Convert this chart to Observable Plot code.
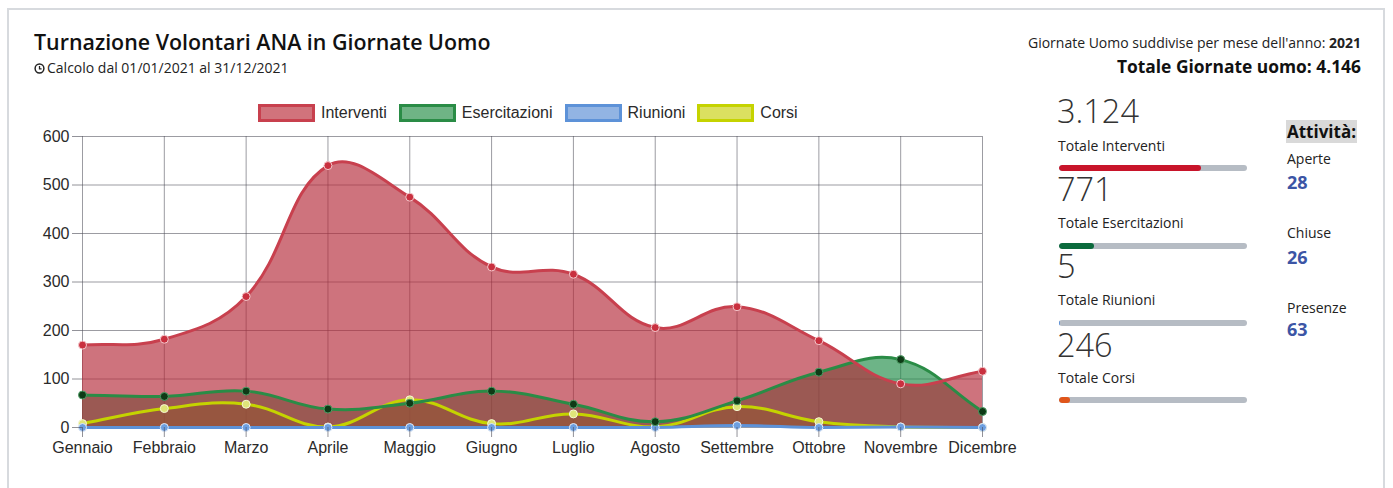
<!DOCTYPE html>
<html><head><meta charset="utf-8">
<script src="https://cdn.jsdelivr.net/npm/d3@7"></script>
<script src="https://cdn.jsdelivr.net/npm/@observablehq/plot@0.6"></script>
<style>
body{margin:0;background:#fff;width:1393px;height:488px;overflow:hidden;position:relative;font-family:"Open Sans",sans-serif;color:#222}
.card{position:absolute;left:7px;top:8px;width:1378px;height:540px;border:2px solid #d7dade;box-sizing:border-box}
.abs{position:absolute;line-height:1;white-space:nowrap}
.legend{position:absolute;left:258px;top:104px;display:flex;align-items:center;font-family:"Liberation Sans",Arial,sans-serif;font-size:16px;color:#2a2a2a}
.legend .item{display:flex;align-items:center;margin-right:12px}
.legend .box{width:57px;height:18px;box-sizing:border-box;border:3px solid;margin-right:6px}
.bar{position:absolute;left:1059px;width:188px;height:6px;border-radius:3px;background:#b6bcc4;overflow:hidden}
.bar div{height:100%;border-radius:3px}
#chart{position:absolute;left:0;top:120px}
</style></head>
<body>
<div class="card"></div>
<div id="root"></div>
<div id="chart"></div>
<script>
// ---- data ----
const months = ["Gennaio","Febbraio","Marzo","Aprile","Maggio","Giugno","Luglio","Agosto","Settembre","Ottobre","Novembre","Dicembre"];
const interventi    = [170,182,270,540,475,331,316,206,249,179,90,116];
const esercitazioni = [67,64,75,38,50,75,48,12,55,114,140,33];
const riunioni      = [0,0,0,0,0,0,0,0,4,0,1,0];
const corsi         = [8,39,48,1,57,8,28,1,43,12,1,0];
const yTicks = [0,100,200,300,400,500,600];
const seriesNames = ["Interventi","Esercitazioni","Riunioni","Corsi"];
const seriesLabels = ["Totale Interventi","Totale Esercitazioni","Totale Riunioni","Totale Corsi"];
const attivitaLabels = ["Aperte","Chiuse","Presenze"];
const attivitaValues = [28,26,63];
const anno = "2021";

// ---- styles ----
const styles = {
  Interventi:    {fill:"rgb(180,40,55)",  fillOpacity:0.65, line:"#c8404e", dot:"#c9303f", dotStroke:"#f4c9cd", legendFill:"#d1737c", legendBorder:"#c8404e", bar:"#c8142a"},
  Esercitazioni: {fill:"rgb(30,140,70)",  fillOpacity:0.65, line:"#2a8c46", dot:"#0e3a16", dotStroke:"#4f9f66", legendFill:"#6fb485", legendBorder:"#2a8c46", bar:"#0b6a3c"},
  Riunioni:      {fill:"rgb(90,140,210)", fillOpacity:0.65, line:"#5d92d8", dot:"#6d9fe0", dotStroke:"#e3ecf8", legendFill:"#92b4e3", legendBorder:"#5d92d8", bar:"#5d92d8"},
  Corsi:         {fill:"rgb(200,210,0)",  fillOpacity:0.6,  line:"#c5d300", dot:"#dfe57a", dotStroke:"#f6f8d6", legendFill:"#dbe060", legendBorder:"#c5d300", bar:"#e0561b"}
};
const seriesValues = {Interventi:interventi, Esercitazioni:esercitazioni, Riunioni:riunioni, Corsi:corsi};
const fmt = n => String(n).replace(/\B(?=(\d{3})+(?!\d))/g, ".");

// ---- header & side panel ----
const root = document.getElementById("root");
function add(html){ root.insertAdjacentHTML("beforeend", html); }
const totals = seriesNames.map(s => d3.sum(seriesValues[s]));
const grand = d3.sum(totals);
add(`<div class="abs" style="left:34px;top:31px;font-size:21.4px;font-weight:600;color:#111">Turnazione Volontari ANA in Giornate Uomo</div>`);
add(`<div class="abs" style="left:34px;top:60.5px;font-size:14px;color:#222;display:flex;align-items:center"><svg width="11" height="11" viewBox="0 0 12 12" style="margin-right:2px;margin-top:1px"><circle cx="6" cy="6" r="4.8" fill="none" stroke="#222" stroke-width="1.6"/><path d="M6 3.2V6.3H8.3" fill="none" stroke="#222" stroke-width="1.4"/></svg>Calcolo dal 01/01/${anno} al 31/12/${anno}</div>`);
add(`<div class="abs" style="right:32px;top:35.5px;font-size:14px;color:#222">Giornate Uomo suddivise per mese dell'anno: <b>${anno}</b></div>`);
add(`<div class="abs" style="right:32px;top:57.5px;font-size:17.4px;font-weight:700;color:#111">Totale Giornate uomo: ${fmt(grand)}</div>`);

const numTops = [95,173,250,329], labTops = [138.6,215.6,292.6,370.6], barTops = [165,243,320,397];
seriesNames.forEach((s,i) => {
  add(`<div class="abs" style="left:1057px;top:${numTops[i]}px;font-size:32.5px;font-weight:300;color:#333">${fmt(totals[i])}</div>`);
  add(`<div class="abs" style="left:1058px;top:${labTops[i]}px;font-size:14px;color:#222">${seriesLabels[i]}</div>`);
  add(`<div class="bar" style="top:${barTops[i]}px"><div style="width:${(totals[i]/grand*100).toFixed(2)}%;background:${styles[s].bar}"></div></div>`);
});
add(`<div class="abs" style="left:1286px;top:120px;width:71px;height:23px;background:#d9d9d9"></div>`);
add(`<div class="abs" style="left:1287px;top:123px;font-size:17px;font-weight:700;color:#111">Attività:</div>`);
const aLabTops = [151.6,225.6,300.6], aValTops = [173,248,320];
attivitaLabels.forEach((l,i) => {
  add(`<div class="abs" style="left:1287px;top:${aLabTops[i]}px;font-size:14px;color:#222">${l}</div>`);
  add(`<div class="abs" style="left:1287px;top:${aValTops[i]}px;font-size:18px;font-weight:700;color:#3c55a5">${attivitaValues[i]}</div>`);
});

// ---- legend ----
add(`<div class="legend">${seriesNames.map(s => `<div class="item"><div class="box" style="background:${styles[s].legendFill};border-color:${styles[s].legendBorder}"></div>${s}</div>`).join("")}</div>`);

// ---- chart ----
const W = 1010, H = 350, ML = 82, MR = 28, MT = 16, MB = 43;
const TENSION = 0.4;
function chartjsCurve(context){
  let pts = [], line = NaN;
  const top = MT, bottom = H - MB, left = ML, right = W - MR;
  const clamp = (v,a,b) => Math.max(a, Math.min(b, v));
  return {
    areaStart(){ line = 0; },
    areaEnd(){ line = NaN; },
    lineStart(){ pts = []; },
    point(x,y){ pts.push([+x,+y]); },
    lineEnd(){
      const n = pts.length;
      if (n) {
        if (line) context.lineTo(pts[0][0], pts[0][1]); else context.moveTo(pts[0][0], pts[0][1]);
        const cps = pts.map((c,i) => {
          const p = pts[Math.max(0,i-1)], q = pts[Math.min(n-1,i+1)];
          const d01 = Math.hypot(c[0]-p[0], c[1]-p[1]), d12 = Math.hypot(q[0]-c[0], q[1]-c[1]);
          let s01 = d01/(d01+d12), s12 = d12/(d01+d12);
          if (!isFinite(s01)) s01 = 0; if (!isFinite(s12)) s12 = 0;
          const fa = TENSION*s01, fb = TENSION*s12;
          return {
            px: clamp(c[0]-fa*(q[0]-p[0]), left, right), py: clamp(c[1]-fa*(q[1]-p[1]), top, bottom),
            nx: clamp(c[0]+fb*(q[0]-p[0]), left, right), ny: clamp(c[1]+fb*(q[1]-p[1]), top, bottom)
          };
        });
        for (let i = 1; i < n; i++) context.bezierCurveTo(cps[i-1].nx, cps[i-1].ny, cps[i].px, cps[i].py, pts[i][0], pts[i][1]);
      }
      if (line || (line !== 0 && n === 1)) context.closePath();
      line = 1 - line;
    }
  };
}

const rows = s => months.map((m,i) => ({month:m, value:seriesValues[s][i]}));
const drawOrder = [...seriesNames].reverse();
const marks = [
  Plot.gridX({stroke:"#4a4a55", strokeOpacity:0.55}),
  Plot.gridY(yTicks, {stroke:"#4a4a55", strokeOpacity:0.55}),
  ...drawOrder.map(s => Plot.areaY(rows(s), {x:"month", y1:0, y2:"value", fill:styles[s].fill, fillOpacity:styles[s].fillOpacity, curve:chartjsCurve})),
  ...drawOrder.flatMap(s => [
    Plot.line(rows(s), {x:"month", y:"value", stroke:styles[s].line, strokeWidth:3, curve:chartjsCurve}),
    Plot.dot(rows(s), {x:"month", y:"value", r:4, fill:styles[s].dot, stroke:styles[s].dotStroke, strokeWidth:1})
  ]),
  Plot.axisX({tickSize:10, tickPadding:4, stroke:"#4a4a55", strokeOpacity:0.6}),
  Plot.axisY(yTicks, {tickSize:10, tickPadding:3, stroke:"#4a4a55", strokeOpacity:0.6})
];
const chart = Plot.plot({
  width: W, height: H,
  marginLeft: ML, marginRight: MR, marginTop: MT, marginBottom: MB,
  style: {fontFamily:"'Liberation Sans', Arial, sans-serif", fontSize:"16px", color:"#2a2a2a", background:"transparent", overflow:"visible"},
  x: {type:"point", domain: months, padding:0, round:false, label:null},
  y: {domain:[0,600], label:null},
  marks
});
document.getElementById("chart").appendChild(chart);
</script>
</body></html>
